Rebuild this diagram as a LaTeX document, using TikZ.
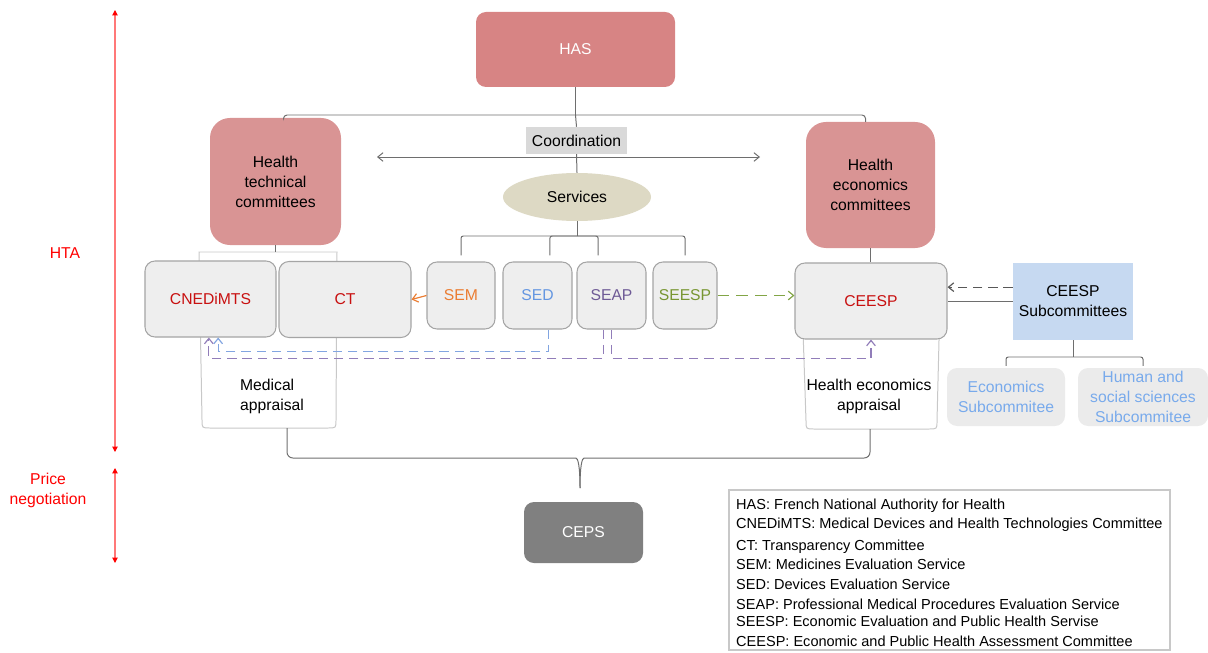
\documentclass[tikz,border=0pt]{standalone}
\usepackage{fontspec}
\setmainfont{Liberation Sans}
\usetikzlibrary{arrows.meta,shapes.geometric}

\definecolor{hasred}{RGB}{215,132,132}
\definecolor{compink}{RGB}{217,148,148}
\definecolor{boxfill}{RGB}{238,238,238}
\definecolor{boxline}{RGB}{165,165,165}
\definecolor{connline}{RGB}{110,110,110}
\definecolor{cupline}{RGB}{200,200,200}
\definecolor{coordgray}{RGB}{217,217,217}
\definecolor{srvfill}{RGB}{221,217,196}
\definecolor{darkred}{RGB}{200,16,16}
\definecolor{semorange}{RGB}{235,125,50}
\definecolor{sedblue}{RGB}{100,150,225}
\definecolor{seappurple}{RGB}{110,90,150}
\definecolor{seespgreen}{RGB}{120,150,50}
\definecolor{dashblue}{RGB}{130,165,225}
\definecolor{dashpurple}{RGB}{145,125,185}
\definecolor{dashgreen}{RGB}{130,165,70}
\definecolor{subblue}{RGB}{198,217,241}
\definecolor{sublight}{RGB}{235,235,235}
\definecolor{subtext}{RGB}{120,170,235}
\definecolor{cepsgray}{RGB}{128,128,128}
\definecolor{scalered}{RGB}{255,120,120}

\newcommand\boxfont{\fontsize{13.4}{17}\selectfont}
\newcommand\legfont{\fontsize{12.4}{15}\selectfont}

\tikzset{
  gbox/.style={draw=boxline, fill=boxfill, line width=0.9pt, rounded corners=0.3cm,
    align=center, inner sep=0pt, font=\boxfont},
  pinkbox/.style={fill=compink, rounded corners=0.6cm, align=center, inner sep=0pt, font=\boxfont},
  conn/.style={draw=connline, line width=0.85pt},
  cup/.style={draw=cupline, line width=0.85pt},
  tip/.style={-{Straight Barb[length=1.6mm,width=2.6mm]}},
  dashconn/.style={line width=1pt, dash pattern=on 8pt off 5pt, tip},
  subbox/.style={fill=sublight, rounded corners=0.3cm, align=center, inner sep=0pt,
    text=subtext, font=\boxfont},
  redlabel/.style={text=red, align=center, font=\boxfont},
  scalearrow/.style={draw=scalered, line width=0.9pt,
    {Triangle[length=1.6mm,width=1.6mm,red]}-{Triangle[length=1.6mm,width=1.6mm,red]}},
  legtext/.style={anchor=west, inner sep=0pt, font=\legfont}
}

\begin{document}
\begin{tikzpicture}[x=0.03cm, y=-0.03cm]
  \useasboundingbox (0,0) rectangle (1208,653);

  % Scale on the left
  \coordinate (htatop) at (115,10);
  \coordinate (htabot) at (115,452);
  \coordinate (pricetop) at (115,468);
  \coordinate (pricebot) at (115,563);
  \draw[scalearrow] (htatop) -- (htabot);
  \draw[scalearrow] (pricetop) -- (pricebot);
  \node[redlabel] (hta) at (65,253) {HTA};
  \node[redlabel] (price) at (48,490) {Price\\negotiation};

  % HAS and the two committees
  \node[fill=hasred, rounded corners=0.3cm, minimum width=5.97cm, minimum height=2.25cm,
        text=white, font=\boxfont] (has) at (575.5,49.5) {HAS};
  \node[pinkbox, minimum width=3.93cm, minimum height=3.81cm] (htc) at (275.5,181.5)
        {Health\\technical\\committees};
  \node[pinkbox, minimum width=3.87cm, minimum height=3.78cm] (hec) at (870.5,185)
        {Health\\economics\\committees};

  % Coordination and services
  \node[fill=coordgray, minimum width=3.03cm, minimum height=0.81cm, inner sep=0pt,
        font=\boxfont] (coord) at (576.5,140.5) {Coordination};
  \node[ellipse, fill=srvfill, minimum width=4.44cm, minimum height=1.44cm, inner sep=0pt,
        font=\boxfont] (srv) at (577,197) {Services};
  \coordinate (hub) at (575.5,115);
  \draw[conn] (has.south) -- (hub);
  \draw[conn, rounded corners=3pt] (hub) -| ([xshift=0.24cm]htc.north);
  \draw[conn, rounded corners=3pt] (hub) -| ([xshift=-0.15cm]hec.north);
  \draw[conn] (hub) -- (coord.north);
  \draw[conn] (coord.south) -- (srv.north);
  \coordinate (coordL) at (377,157);
  \coordinate (coordR) at (760,157);
  \draw[conn, {Straight Barb[length=1.6mm,width=2.6mm]}-{Straight Barb[length=1.6mm,width=2.6mm]}]
        (coordL) -- (coordR);

  % Appraisal cups (behind the boxes)
  \coordinate (lcup) at (275.5,252);
  \draw[cup, fill=white] (199,252) -- (202,420) .. controls (202,428) .. (210,428)
        -- (328,428) .. controls (336,428) .. (336,420) -- (337,252) -- cycle;
  \draw[cup, fill=white] (802,300) -- (806,421) .. controls (806,429) .. (814,429)
        -- (929,429) .. controls (937,429) .. (937,421) -- (940,300);
  \draw[conn] (htc.south) -- (lcup);
  \node[anchor=west, align=left, font=\boxfont] (medapp) at (236,396) {Medical\\appraisal};
  \node[align=center, font=\boxfont] (ecoapp) at (869,396) {Health economics\\appraisal};

  % Committees
  \node[gbox, text=darkred, minimum width=3.93cm, minimum height=2.28cm] (cned) at (210.5,299) {CNEDiMTS};
  \node[gbox, text=darkred, minimum width=3.96cm, minimum height=2.28cm] (ct) at (345,299.5) {CT};
  \node[gbox, text=darkred, minimum width=4.56cm, minimum height=2.28cm] (ceesp) at (871,301) {CEESP};
  \draw[conn] (hec.south) -- (hec.south |- ceesp.north);

  % Services boxes
  \node[gbox, text=semorange, minimum width=2.04cm, minimum height=2.01cm] (sem) at (461,295.5) {SEM};
  \node[gbox, text=sedblue, minimum width=2.07cm, minimum height=2.01cm] (sed) at (537.5,295.5) {SED};
  \node[gbox, text=seappurple, minimum width=2.07cm, minimum height=2.01cm] (seap) at (611.5,295.5) {SEAP};
  \node[gbox, text=seespgreen, minimum width=1.92cm, minimum height=2.01cm] (seesp) at (685,295.5) {SEESP};
  \coordinate (srvhub) at (577,236);
  \draw[conn] (srv.south) -- (srvhub);
  \draw[conn, rounded corners=2pt] ([yshift=0.18cm]sem.north) |- (srvhub) -| ([yshift=0.18cm]seesp.north);
  \draw[conn, rounded corners=2pt] ([xshift=0.37cm,yshift=0.18cm]sed.north) |- (srvhub);
  \draw[conn, rounded corners=2pt] ([xshift=-0.4cm,yshift=0.18cm]seap.north) |- (srvhub);

  % Links from the services
  \draw[draw=semorange, line width=1pt, tip] (sem.west) -- (ct.east);
  \draw[draw=dashgreen, dashconn, dash pattern=on 10pt off 6pt] (seesp.east) -- (ceesp.west |- seesp.east);
  \draw[draw=dashblue, dashconn] ([xshift=0.33cm]sed.south) -- ++(0,22) -| ([xshift=0.23cm]cned.south);
  \draw[draw=dashpurple, dashconn] ([xshift=-0.24cm]seap.south) -- ++(0,29) -| ([xshift=-0.05cm]cned.south);
  \draw[draw=dashpurple, dashconn] (seap.south) -- ++(0,29) -| (ceesp.south);

  % CEESP subcommittees
  \node[fill=subblue, minimum width=3.6cm, minimum height=2.31cm, align=center, inner sep=0pt,
        font=\boxfont] (sub) at (1073,301.5) {CEESP\\Subcommittees};
  \draw[draw=connline!80!black, dashconn] ([yshift=0.43cm]sub.west) -- ([yshift=0.43cm]sub.west -| ceesp.east);
  \draw[conn] (sub.west) -- (sub.west -| ceesp.east);
  \node[subbox, minimum width=3.54cm, minimum height=1.74cm] (econ) at (1006,397) {Economics\\Subcommitee};
  \node[subbox, minimum width=3.9cm, minimum height=1.74cm] (human) at (1143,397)
        {Human and\\social sciences\\Subcommitee};
  \coordinate (subhub) at (1073,357);
  \draw[conn] (sub.south) -- (subhub);
  \draw[conn, rounded corners=2pt] ([yshift=0.06cm]econ.north) |- (subhub) -| ([yshift=0.06cm]human.north);

  % Brace down to CEPS
  \node[fill=cepsgray, rounded corners=0.3cm, minimum width=3.57cm, minimum height=1.83cm,
        text=white, font=\boxfont] (ceps) at (583.5,532.5) {CEPS};
  \coordinate (bracetip) at (580,488);
  \draw[conn, rounded corners=5pt] (287,428) -- (287,458) -- (570,458)
        .. controls (578,458) and (580,466) .. (bracetip);
  \draw[conn, rounded corners=5pt] (870,429) -- (870,458) -- (590,458)
        .. controls (582,458) and (580,466) .. (bracetip);

  % Legend
  \node[draw=cupline, line width=0.9pt, minimum width=13.23cm, minimum height=4.8cm] (legend) at (949.5,570) {};
  \foreach \yy/\txt in {506/{HAS: French National Authority for Health},
      525/{CNEDiMTS: Medical Devices and Health Technologies Committee},
      547/{CT: Transparency Committee},
      564/{SEM: Medicines Evaluation Service},
      584/{SED: Devices Evaluation Service},
      604/{SEAP: Professional Medical Procedures Evaluation Service},
      621/{SEESP: Economic Evaluation and Public Health Servise},
      641/{CEESP: Economic and Public Health Assessment Committee}}
    \node[legtext] (leg\yy) at (736,\yy) {\txt};
\end{tikzpicture}
\end{document}
